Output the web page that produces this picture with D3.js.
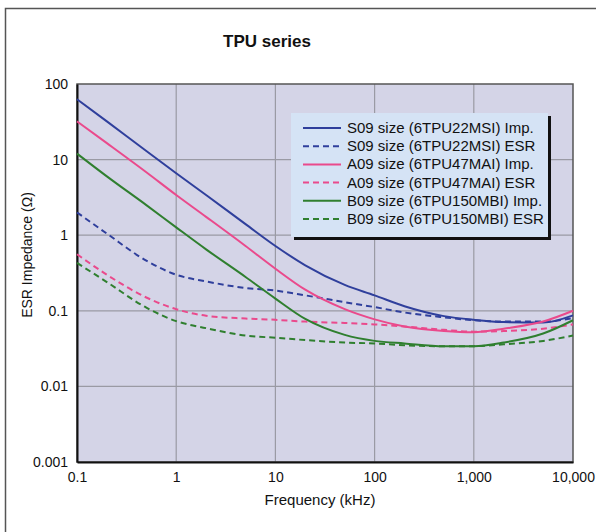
<!DOCTYPE html>
<html>
<head>
<meta charset="utf-8">
<script src="https://cdn.jsdelivr.net/npm/d3@7"></script>
<style>
  html, body { margin: 0; padding: 0; background: #fff; }
  svg { display: block; font-family: "Liberation Sans", Arial, Helvetica, sans-serif; }
</style>
</head>
<body>
<svg id="chart" width="596" height="532"></svg>
<script>
// Frequency points (kHz) shared by every curve
const freqs = [0.1, 0.2, 0.5, 1, 2, 5, 10, 20, 50, 100, 200, 500, 1000, 2000, 5000, 10000];

// Impedance / ESR (ohm) at each frequency
const s09Imp = [63, 32, 13, 6.6, 3.4, 1.4, 0.72, 0.40, 0.22, 0.16, 0.115, 0.085, 0.076, 0.071, 0.070, 0.087];
const s09Esr = [2.0, 1.05, 0.46, 0.30, 0.245, 0.20, 0.185, 0.16, 0.13, 0.112, 0.095, 0.082, 0.075, 0.072, 0.072, 0.080];
const a09Imp = [32, 16.5, 6.8, 3.4, 1.75, 0.72, 0.36, 0.19, 0.105, 0.077, 0.062, 0.054, 0.052, 0.058, 0.072, 0.10];
const a09Esr = [0.56, 0.30, 0.15, 0.105, 0.086, 0.079, 0.076, 0.072, 0.069, 0.066, 0.062, 0.056, 0.053, 0.054, 0.058, 0.066];
const b09Imp = [12, 6.0, 2.5, 1.27, 0.65, 0.28, 0.145, 0.078, 0.048, 0.040, 0.037, 0.034, 0.034, 0.038, 0.050, 0.075];
const b09Esr = [0.43, 0.24, 0.11, 0.073, 0.059, 0.047, 0.044, 0.041, 0.038, 0.037, 0.035, 0.034, 0.034, 0.036, 0.040, 0.047];

const seriesNames = [
  "S09 size (6TPU22MSI) Imp.",
  "S09 size (6TPU22MSI) ESR",
  "A09 size (6TPU47MAI) Imp.",
  "A09 size (6TPU47MAI) ESR",
  "B09 size (6TPU150MBI) Imp.",
  "B09 size (6TPU150MBI) ESR"
];
const seriesValues = [s09Imp, s09Esr, a09Imp, a09Esr, b09Imp, b09Esr];
const seriesColors = ["#2f3f9c", "#2f3f9c", "#ea4a8c", "#ea4a8c", "#2f7f2f", "#2f7f2f"];
const seriesDashed = [false, true, false, true, false, true];

const xTicks = [0.1, 1, 10, 100, 1000, 10000];
const xTickLabels = ["0.1", "1", "10", "100", "1,000", "10,000"];
const yTicks = [0.001, 0.01, 0.1, 1, 10, 100];
const yTickLabels = ["0.001", "0.01", "0.1", "1", "10", "100"];

const svg = d3.select("#chart");
const plot = { left: 77, right: 573, top: 84, bottom: 462 };

// Outer frame
svg.append("rect")
  .attr("x", 5.5).attr("y", 8.5)
  .attr("width", 620).attr("height", 560)
  .attr("fill", "none").attr("stroke", "#555").attr("stroke-width", 1.5);

const x = d3.scaleLog().domain([0.1, 10000]).range([plot.left, plot.right]);
const y = d3.scaleLog().domain([0.001, 100]).range([plot.bottom, plot.top]);

// Plot background
svg.append("rect")
  .attr("x", plot.left).attr("y", plot.top)
  .attr("width", plot.right - plot.left).attr("height", plot.bottom - plot.top)
  .attr("fill", "#d4d4e7");

// Grid lines
const grid = svg.append("g").attr("stroke", "#9a9aa4").attr("stroke-width", 1.2);
grid.selectAll("line.gx").data(xTicks.slice(1, -1)).join("line")
  .attr("x1", d => x(d)).attr("x2", d => x(d))
  .attr("y1", plot.top).attr("y2", plot.bottom);
grid.selectAll("line.gy").data(yTicks.slice(1, -1)).join("line")
  .attr("y1", d => y(d)).attr("y2", d => y(d))
  .attr("x1", plot.left).attr("x2", plot.right);

// Plot border
svg.append("rect")
  .attr("x", plot.left).attr("y", plot.top)
  .attr("width", plot.right - plot.left).attr("height", plot.bottom - plot.top)
  .attr("fill", "none").attr("stroke", "#555").attr("stroke-width", 1.5);

// Axes
const xAxis = d3.axisBottom(x).tickValues(xTicks)
  .tickFormat((d, i) => xTickLabels[i]).tickSize(0).tickPadding(10);
const yAxis = d3.axisLeft(y).tickValues(yTicks)
  .tickFormat((d, i) => yTickLabels[i]).tickSize(0).tickPadding(9);

const gx = svg.append("g").attr("transform", `translate(0,${plot.bottom})`).call(xAxis);
const gy = svg.append("g").attr("transform", `translate(${plot.left},0)`).call(yAxis);
[gx, gy].forEach(g => {
  g.select(".domain").attr("stroke", "#111").attr("stroke-width", 2);
  g.selectAll("text").attr("font-size", 14).attr("fill", "#111")
    .attr("font-family", "'Liberation Sans', Arial, sans-serif");
});

// Curves
const line = d3.line()
  .x(d => x(d[0]))
  .y(d => y(d[1]))
  .curve(d3.curveMonotoneX);

const curves = svg.append("g");
seriesValues.forEach((vals, i) => {
  curves.append("path")
    .datum(freqs.map((f, j) => [f, vals[j]]))
    .attr("fill", "none")
    .attr("stroke", seriesColors[i])
    .attr("stroke-width", 2)
    .attr("stroke-dasharray", seriesDashed[i] ? "6,4" : null)
    .attr("d", line);
});

// Legend
const lg = { x: 291, y: 113, w: 257, h: 124 };
svg.append("rect")
  .attr("x", lg.x + 3).attr("y", lg.y + 3).attr("width", lg.w).attr("height", lg.h)
  .attr("fill", "#111");
svg.append("rect")
  .attr("x", lg.x).attr("y", lg.y).attr("width", lg.w).attr("height", lg.h)
  .attr("fill", "#d5e3f5");
const items = svg.append("g").selectAll("g").data(seriesNames).join("g")
  .attr("transform", (d, i) => `translate(${lg.x},${lg.y + 15 + i * 18.2})`);
items.append("line")
  .attr("x1", 12).attr("x2", 50).attr("y1", 0).attr("y2", 0)
  .attr("stroke", (d, i) => seriesColors[i])
  .attr("stroke-width", 2)
  .attr("stroke-dasharray", (d, i) => seriesDashed[i] ? "6,4" : null);
items.append("text")
  .attr("x", 56).attr("y", 5)
  .attr("font-size", 15).attr("fill", "#111")
  .text(d => d);

// Title and axis titles
svg.append("text")
  .attr("x", 267).attr("y", 47).attr("text-anchor", "middle")
  .attr("font-size", 17).attr("font-weight", "bold").attr("fill", "#111")
  .text("TPU series");
svg.append("text")
  .attr("x", 320).attr("y", 505).attr("text-anchor", "middle")
  .attr("font-size", 15).attr("fill", "#111")
  .text("Frequency (kHz)");
svg.append("text")
  .attr("transform", "translate(32,255) rotate(-90)")
  .attr("text-anchor", "middle")
  .attr("font-size", 14).attr("fill", "#111")
  .text("ESR Impedance (Ω)");
</script>
</body>
</html>
